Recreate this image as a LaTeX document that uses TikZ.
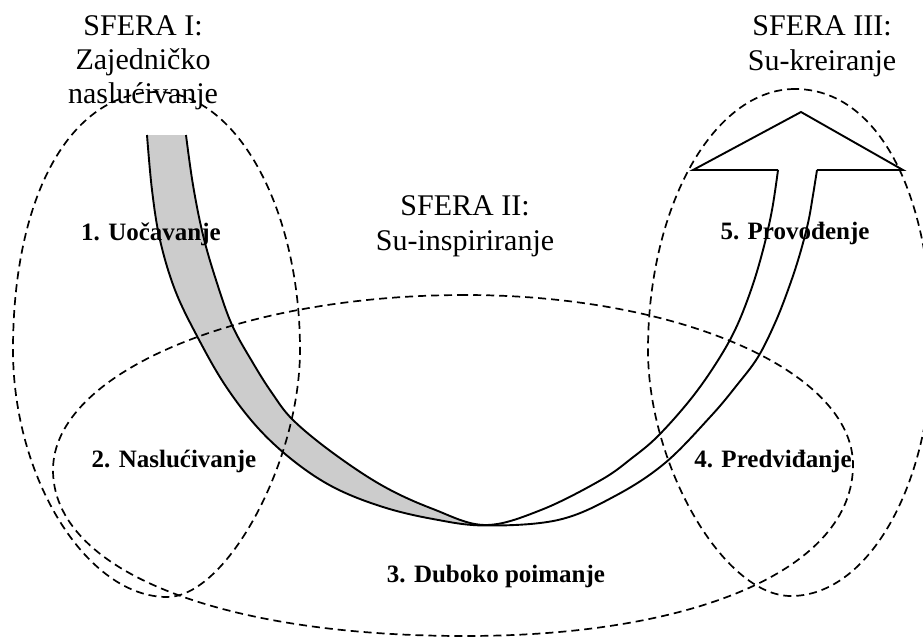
\documentclass[tikz,border=0pt]{standalone}
\usepackage{fontspec}
\setmainfont{Liberation Serif}
\begin{document}
\begin{tikzpicture}[x=1pt,y=-1pt,
  dashline/.style={line width=1.7pt, dash pattern=on 8pt off 5pt},
  bandline/.style={line width=1.9pt, line join=miter},
  title/.style={font=\fontsize{30}{34}\selectfont, anchor=base, inner sep=0pt},
  lbl/.style={font=\fontsize{25}{30}\selectfont\bfseries, anchor=base, inner sep=0pt}]
\useasboundingbox (0,0) rectangle (923,638);
\clip (0,0) rectangle (923,638);
% gray part of the band
\begin{scope}
\clip (0,0) rectangle (485,638);
\fill[black!20] plot[smooth, tension=0.6] coordinates {(147,135) (152,190) (160,240) (175,290) (197,336) (225,385) (258,428) (295,462) (335,488) (383,507) (433,519) (485,525.5) (558,520) (615,496) (665,463) (711,416) (737,385) (758,357) (775,323) (788,290) (799,257) (808,223) (813,195) (817,170)}
 -- (778,170) -- plot[smooth, tension=0.6] coordinates {(778,170) (772,210) (763,250) (751,290) (735,330) (715,365) (690,400) (658,436) (632,458) (601,480) (541,510) (485,525) (433,509) (383,486) (333,453) (293,420) (272,393) (253,363) (232,325) (216,280) (203,235) (193,185) (186,135)} -- cycle;
\end{scope}
% band outlines
\draw[bandline] plot[smooth, tension=0.6] coordinates {(147,135) (152,190) (160,240) (175,290) (197,336) (225,385) (258,428) (295,462) (335,488) (383,507) (433,519) (485,525.5) (558,520) (615,496) (665,463) (711,416) (737,385) (758,357) (775,323) (788,290) (799,257) (808,223) (813,195) (817,170)};
\draw[bandline] plot[smooth, tension=0.6] coordinates {(186,135) (193,185) (203,235) (216,280) (232,325) (253,363) (272,393) (293,420) (333,453) (383,486) (433,509) (485,525) (541,510) (601,480) (632,458) (658,436) (690,400) (715,365) (735,330) (751,290) (763,250) (772,210) (778,170)};
% arrow head
\draw[bandline] (778,170) -- (693,170) -- (801,112) -- (903,170) -- (817,170);
% sphere I
\draw[dashline] (157,92) .. controls (70.6,92) and (13,195.2) .. (13,350)
  .. controls (13,478.4) and (86.9,597) .. (167,597)
  .. controls (226.9,597) and (300,461) .. (300,350)
  .. controls (300,207.6) and (236,92) .. (157,92) -- cycle;
% sphere II
\draw[dashline] (465,295) .. controls (237.6,295) and (53,373.4) .. (53,470)
  .. controls (53,570) and (217.8,636) .. (465,636)
  .. controls (697.8,636) and (853,568) .. (853,465)
  .. controls (853,371.2) and (679.2,295) .. (465,295) -- cycle;
% sphere III
\draw[dashline] (795,89) .. controls (713.9,89) and (648,205.9) .. (648,350)
  .. controls (648,465.6) and (723.8,596) .. (791,596)
  .. controls (868.8,596) and (932,483.6) .. (932,345)
  .. controls (932,191.4) and (877.2,89) .. (795,89) -- cycle;
% titles
\node[title] (s1a) at (143,35) {SFERA I:};
\node[title] (s1b) at (143,69) {Zajedničko};
\node[title] (s1c) at (143,103) {naslućivanje};
\node[title] (s2a) at (465,215) {SFERA II:};
\node[title] (s2b) at (465,250) {Su-inspiriranje};
\node[title] (s3a) at (822,35) {SFERA III:};
\node[title] (s3b) at (822,70) {Su-kreiranje};
% labels
\node[lbl] (l1) at (151,240) {1. Uočavanje};
\node[lbl] (l2) at (174,467) {2. Naslućivanje};
\node[lbl] (l3) at (496,582) {3. Duboko poimanje};
\node[lbl] (l4) at (773,467) {4. Predviđanje};
\node[lbl] (l5) at (795,239) {5. Provođenje};
\end{tikzpicture}
\end{document}
